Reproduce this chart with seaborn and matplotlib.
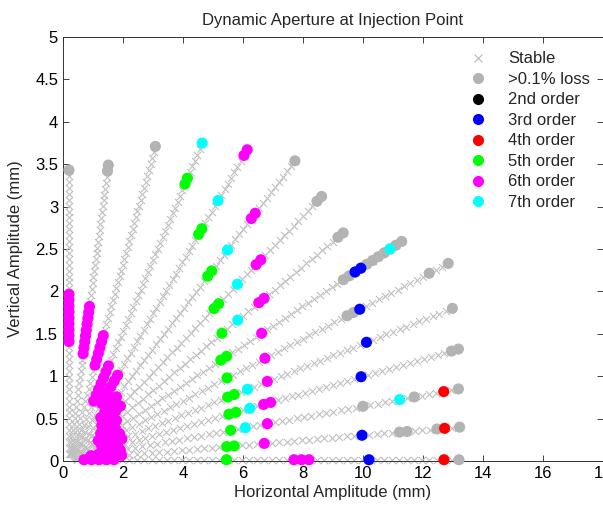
import numpy as np
import pandas as pd
import matplotlib
matplotlib.use("Agg")
import matplotlib.pyplot as plt
import seaborn as sns
from matplotlib.lines import Line2D

# ---------------- data ----------------
# scan rays: common start point, end point of each ray and number of amplitude steps
origin_x, origin_y = 0.2, 0.015
ray_end_x = [13.2, 13.22, 13.18, 13.18, 12.98, 12.84, 11.29, 9.34, 8.62, 7.73, 6.14, 4.64, 3.08, 1.51, 0.2]
ray_end_y = [0.015, 0.40, 0.85, 1.32, 1.80, 2.33, 2.59, 2.69, 3.12, 3.54, 3.67, 3.75, 3.71, 3.49, 3.43]
ray_steps = [52, 52, 53, 56, 58, 60, 57, 52, 54, 57, 55, 54, 53, 50, 49]

# flagged points: (ray index, step index)
loss_pts = [(14, 49), (13, 49), (13, 50), (12, 53), (9, 57), (8, 53), (8, 54), (7, 51), (7, 52),
            (6, 47), (6, 48), (6, 49), (6, 50), (6, 51), (6, 52), (6, 53), (6, 54), (6, 55), (6, 56), (6, 57),
            (5, 44), (5, 45), (5, 57), (5, 60), (4, 58), (3, 55), (3, 56), (2, 40), (2, 47), (2, 53),
            (1, 44), (1, 45), (1, 49), (1, 52), (0, 52)]
order2_pts = []
order3_pts = [(6, 49), (6, 50), (5, 46), (4, 45), (3, 42), (1, 39), (0, 40)]
order4_pts = [(2, 51), (1, 50), (0, 50)]
order5_pts = [(11, 47), (11, 48), (10, 40), (10, 41), (9, 35), (9, 36), (8, 31), (8, 32), (7, 29),
              (6, 26), (6, 27), (5, 25), (4, 24), (4, 25), (3, 23), (3, 24), (2, 22), (1, 21), (1, 22), (0, 21)]
order6_pts = [(10, 54), (10, 55), (9, 46), (9, 47), (8, 40), (8, 41), (7, 36), (7, 37), (6, 33), (5, 31),
              (4, 30), (3, 28), (3, 29), (2, 27), (1, 26), (0, 30), (0, 31), (0, 32)]
# runs of consecutive 6th-order points: (ray, first step, last step)
order6_runs = [(14, 20, 28), (13, 18, 26), (12, 16, 21), (11, 10, 16), (10, 10, 15), (9, 8, 12),
               (8, 7, 11), (7, 6, 9), (6, 5, 8), (5, 5, 8), (4, 5, 8), (3, 5, 7), (2, 3, 7), (1, 3, 7), (0, 2, 6)]
order7_pts = [(11, 54), (10, 46), (9, 40), (8, 36), (7, 32), (6, 55), (4, 27), (3, 26), (2, 24), (2, 45)]

labels = ["Stable", ">0.1% loss", "2nd order", "3rd order", "4th order", "5th order", "6th order", "7th order"]
colors = ["#c0c0c0", "#b3b3b3", "#000000", "#0000ff", "#ff0000", "#00ff00", "#ff00ff", "#00ffff"]

# ---------------- build tables ----------------
def pos(i, k):
    n = ray_steps[i]
    x = origin_x + (ray_end_x[i] - origin_x) * k / n
    y = origin_y + (ray_end_y[i] - origin_y) * k / n
    return x, y

grid = []
for i in range(len(ray_steps)):
    for k in range(1, ray_steps[i] + 1):
        x, y = pos(i, k)
        grid.append({"x": x, "y": y})
stable_df = pd.DataFrame(grid)

o6 = list(order6_pts)
for (i, a, b) in order6_runs:
    o6 += [(i, k) for k in range(a, b + 1)]

cat_lists = [loss_pts, order2_pts, order3_pts, order4_pts, order5_pts, o6, order7_pts]
rows = []
for lab, pts in zip(labels[1:], cat_lists):
    for (i, k) in pts:
        x, y = pos(i, k)
        rows.append({"x": x, "y": y, "cat": lab})
circ_df = pd.DataFrame(rows)

# ---------------- plot ----------------
sns.set_style("ticks")
plt.rcParams["font.family"] = ["Liberation Sans", "DejaVu Sans"]

fig = plt.figure(figsize=(6.03, 5.05), dpi=100)
ax = fig.add_axes([63 / 603, 44 / 505, 540 / 603, 424 / 505])

sns.scatterplot(data=stable_df, x="x", y="y", marker="x", color=colors[0], s=26,
                linewidth=0.8, ax=ax, legend=False, zorder=2)
pal = dict(zip(labels[1:], colors[1:]))
sns.scatterplot(data=circ_df, x="x", y="y", hue="cat", hue_order=labels[1:], palette=pal,
                s=64, linewidth=0, ax=ax, legend=False, zorder=3)
for coll in ax.collections:
    coll.set_clip_on(False)

ax.set_xlim(0, 18)
ax.set_ylim(0, 5)
ax.set_xticks(np.arange(0, 19, 2))
ax.set_yticks(np.arange(0, 5.01, 0.5))
ax.set_yticklabels([f"{v:g}" for v in np.arange(0, 5.01, 0.5)])
ax.tick_params(direction="in", length=4, width=0.6, top=True, right=True,
               labelsize=12, colors="#222222", labelcolor="black")
for sp in ax.spines.values():
    sp.set_visible(True)
    sp.set_linewidth(0.7)
    sp.set_color("#333333")

ax.set_title("Dynamic Aperture at Injection Point", fontsize=12, pad=9)
ax.set_xlabel("Horizontal Amplitude (mm)", fontsize=12, labelpad=3)
ax.set_ylabel("Vertical Amplitude (mm)", fontsize=12, labelpad=9)

handles = [Line2D([], [], linestyle="none", marker="x", color=colors[0], markersize=6, markeredgewidth=0.9)]
for c in colors[1:]:
    handles.append(Line2D([], [], linestyle="none", marker="o", color=c, markersize=8, markeredgewidth=0))
ax.legend(handles, labels, loc="upper left", bbox_to_anchor=(0.75, 0.966), frameon=False,
          fontsize=12, borderpad=0, borderaxespad=0, handlelength=1.2, handletextpad=1.2,
          labelspacing=0.33)

fig.savefig("out.png", dpi=100)
